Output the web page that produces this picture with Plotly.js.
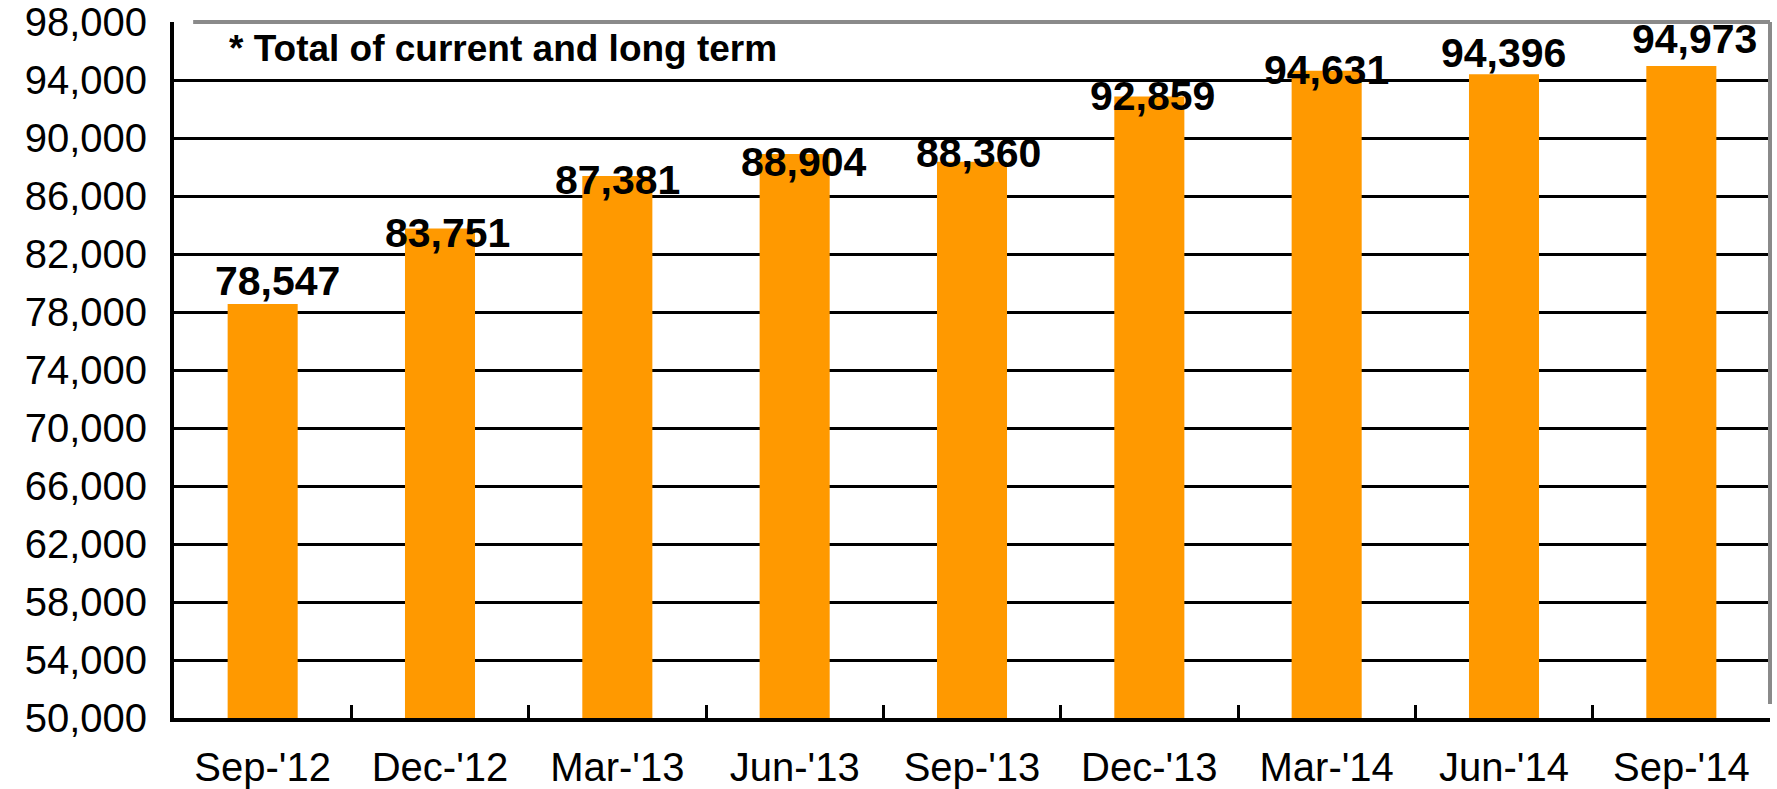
<!DOCTYPE html>
<html>
<head>
<meta charset="utf-8">
<script src="https://cdn.plot.ly/plotly-3.0.1.min.js"></script>
<style>
  html, body { margin: 0; padding: 0; background: #ffffff; }
  #chart { width: 1777px; height: 789px; }
</style>
</head>
<body>
<div id="chart"></div>
<script>
// ---- data ----
const categories = ["Sep-'12", "Dec-'12", "Mar-'13", "Jun-'13", "Sep-'13", "Dec-'13", "Mar-'14", "Jun-'14", "Sep-'14"];
const values = [78547, 83751, 87381, 88904, 88360, 92859, 94631, 94396, 94973];
const yTickValues = [50000, 54000, 58000, 62000, 66000, 70000, 74000, 78000, 82000, 86000, 90000, 94000, 98000];
const noteText = "* Total of current and long term";

// ---- label placement tweaks (pixels, style only) ----
const labelDy = [23, -4, -4, -8, 9, 1, 1, 21, 27];
const labelDx = [15, 7, 0, 9, 6, 3, 0, -1, 13];

const FONT = "Liberation Sans, Arial, Helvetica, sans-serif";

const trace = {
  type: 'bar',
  x: categories,
  y: values,
  marker: { color: '#FF9900', line: { width: 0 } },
  hoverinfo: 'x+y'
};

const annotations = categories.map((c, i) => ({
  x: c,
  y: values[i],
  xref: 'x',
  yref: 'y',
  text: values[i].toLocaleString('en-US'),
  showarrow: false,
  xanchor: 'center',
  yanchor: 'middle',
  xshift: labelDx[i],
  yshift: labelDy[i],
  font: { family: FONT, size: 41, color: '#000000', weight: 'bold' }
}));

annotations.push({
  xref: 'paper', yref: 'paper',
  x: 0.033, y: 0.962,
  xanchor: 'left', yanchor: 'middle',
  text: '<b>' + noteText + '</b>',
  showarrow: false,
  font: { family: FONT, size: 37, color: '#000000' }
});

const layout = {
  width: 1777,
  height: 789,
  margin: { l: 174, r: 7, t: 22, b: 71, pad: 0 },
  paper_bgcolor: '#ffffff',
  plot_bgcolor: '#ffffff',
  showlegend: false,
  bargap: 0.605,
  font: { family: FONT, color: '#000000' },
  xaxis: {
    type: 'category',
    categoryorder: 'array',
    categoryarray: categories,
    showgrid: false,
    zeroline: false,
    showline: true,
    linecolor: '#000000',
    linewidth: 4,
    ticks: 'inside',
    tickson: 'boundaries',
    ticklen: 13,
    tickwidth: 3,
    tickcolor: '#000000',
    ticklabelstandoff: 11,
    tickfont: { family: FONT, size: 40, color: '#000000' }
  },
  yaxis: {
    range: [50000, 98000],
    tickmode: 'array',
    tickvals: yTickValues,
    ticktext: yTickValues.map(v => v.toLocaleString('en-US')),
    showgrid: true,
    gridcolor: '#000000',
    gridwidth: 3,
    zeroline: false,
    showline: true,
    linecolor: '#000000',
    linewidth: 4,
    ticks: 'inside',
    ticklen: 16,
    tickwidth: 3,
    tickcolor: '#000000',
    ticklabelstandoff: 15,
    tickfont: { family: FONT, size: 40, color: '#000000' }
  },
  shapes: [
    { type: 'line', xref: 'paper', yref: 'paper', x0: 0.012, x1: 1, y0: 1, y1: 1,
      line: { color: '#8a8a8a', width: 4 }, layer: 'above' },
    { type: 'line', xref: 'paper', yref: 'paper', x0: 1, x1: 1, y0: 0.02, y1: 1,
      line: { color: '#8a8a8a', width: 4 }, layer: 'above' }
  ],
  annotations: annotations
};

Plotly.newPlot('chart', [trace], layout, { displayModeBar: false, staticPlot: true });
</script>
</body>
</html>
